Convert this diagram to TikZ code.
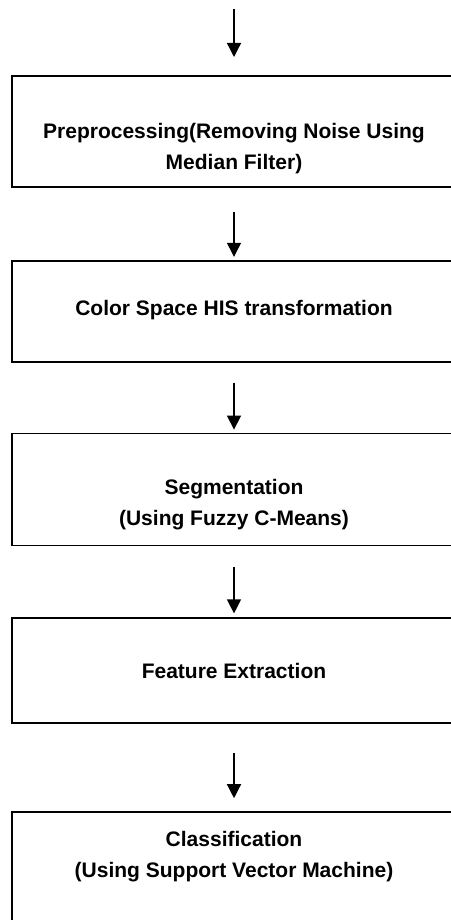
\documentclass[tikz,border=0pt]{standalone}
\usepackage{fontspec}
\setmainfont{Liberation Sans}
\usetikzlibrary{positioning,arrows.meta}

\begin{document}
\begin{tikzpicture}[
  x=1pt, y=1pt,
  >={Triangle[length=14pt,width=14pt]},
  every node/.style={font=\bfseries\fontsize{21}{31}\selectfont},
  stagebox/.style={draw, line width=1.8pt, minimum width=444pt,
                   minimum height=#1, inner sep=0pt},
  stagetext/.style={align=center, inner sep=0pt},
  flow/.style={->, line width=1.3pt},
]
\useasboundingbox (0,0) rectangle (450,-920);

% ── Input ──
\coordinate (in) at (234,-9);

% ── Stage boxes ──
\node[stagebox=111pt, below=66pt of in] (pre) {};
\node[stagebox=101pt, below=72pt of pre] (his) {};
\node[stagebox=112pt, below=70pt of his] (seg) {};
\node[stagebox=105pt, below=71pt of seg] (feat) {};
\node[stagebox=120pt, below=87pt of feat] (cls) {};

% ── Stage labels ──
\node[stagetext, yshift=-17pt] (pre-t) at (pre)
  {Preprocessing(Removing Noise Using\\Median Filter)};
\node[stagetext, yshift=1pt] (his-t) at (his)
  {Color Space HIS transformation};
\node[stagetext, yshift=-15pt] (seg-t) at (seg)
  {Segmentation\\(Using Fuzzy C-Means)};
\node[stagetext] (feat-t) at (feat) {Feature Extraction};
\node[stagetext, yshift=15pt] (cls-t) at (cls)
  {Classification\\(Using Support Vector Machine)};

% ── Arrows between stages ──
\draw[flow, shorten >=18pt] (in) -- (pre.north);
\draw[flow, shorten <=24pt, shorten >=3pt] (pre.south) -- (his.north);
\draw[flow, shorten <=20pt, shorten >=3pt] (his.south) -- (seg.north);
\draw[flow, shorten <=21pt, shorten >=4pt] (seg.south) -- (feat.north);
\draw[flow, shorten <=29pt, shorten >=13pt] (feat.south) -- (cls.north);

\end{tikzpicture}
\end{document}
